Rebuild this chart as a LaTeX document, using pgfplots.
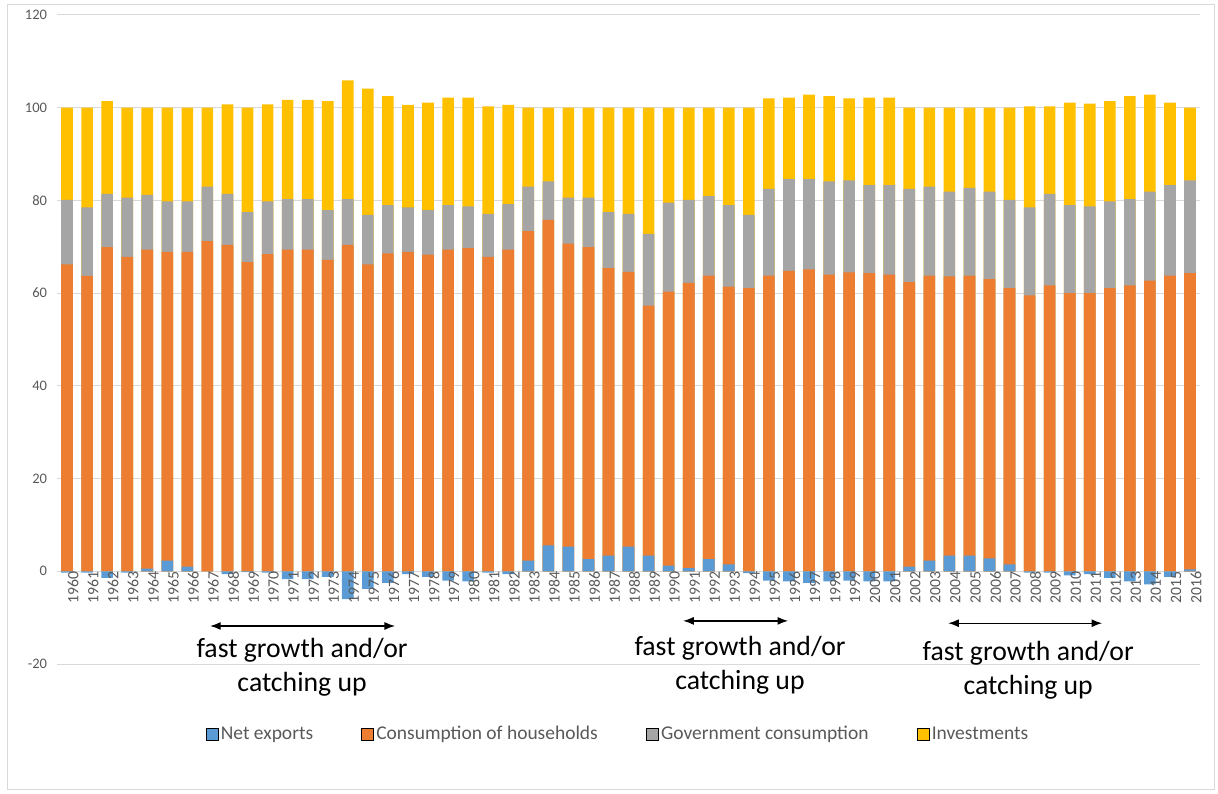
\documentclass[border=0pt]{standalone}
\usepackage{fontspec}
\setmainfont{Carlito}
\usepackage{pgfplots}
\pgfplotsset{compat=1.18}
\usepackage{pgfplotstable}
\usetikzlibrary{arrows.meta}

\definecolor{cNE}{HTML}{5B9BD5}
\definecolor{cHH}{HTML}{ED7D31}
\definecolor{cGov}{HTML}{A5A5A5}
\definecolor{cInv}{HTML}{FFC000}
\definecolor{cGrid}{HTML}{D9D9D9}
\definecolor{cText}{HTML}{595959}

% ne = net exports; hh, gov, tot = top of the household, government and investment segments
\pgfplotstableread{
year ne hh gov tot
1960 -0.3 66.2 80.1 100
1961 -0.3 63.7 78.5 100
1962 -1.4 69.9 81.4 101.4
1963 -0.3 67.8 80.6 100
1964 0.6 69.4 81.2 100
1965 2.3 68.9 79.8 100
1966 1.0 68.9 79.8 100
1967 0.0 71.2 83.0 100
1968 -0.6 70.4 81.4 100.7
1969 -0.2 66.7 77.5 100
1970 -0.3 68.4 79.8 100.7
1971 -1.7 69.4 80.3 101.7
1972 -1.7 69.4 80.3 101.7
1973 -1.2 67.2 77.9 101.4
1974 -6.0 70.4 80.3 105.9
1975 -3.8 66.2 76.9 104.1
1976 -2.5 68.6 79.0 102.5
1977 -0.6 68.9 78.5 100.6
1978 -1.2 68.3 77.9 101.1
1979 -2.0 69.4 79.0 102.2
1980 -2.2 69.7 78.7 102.2
1981 -0.3 67.8 77.1 100.3
1982 -0.6 69.4 79.2 100.6
1983 2.3 73.4 83.0 100
1984 5.6 75.8 84.1 100
1985 5.3 70.7 80.6 100
1986 2.6 69.9 80.6 100
1987 3.4 65.4 77.5 100
1988 5.3 64.6 77.1 100
1989 3.4 57.3 72.8 100
1990 1.2 60.3 79.5 100
1991 0.7 62.2 80.1 100
1992 2.6 63.8 80.9 100
1993 1.5 61.4 79.0 100
1994 -0.4 61.1 76.9 100
1995 -2.0 63.8 82.5 102.0
1996 -2.2 64.8 84.6 102.2
1997 -2.5 65.1 84.6 102.8
1998 -2.2 64.0 84.1 102.5
1999 -2.0 64.5 84.3 102.0
2000 -2.2 64.3 83.3 102.2
2001 -2.2 64.0 83.3 102.2
2002 1.0 62.4 82.5 100
2003 2.3 63.8 83.0 100
2004 3.4 63.6 81.9 100
2005 3.4 63.8 82.7 100
2006 2.8 63.0 81.9 100
2007 1.5 61.1 80.1 100
2008 -0.3 59.5 78.5 100.3
2009 -0.3 61.7 81.4 100.3
2010 -0.9 60.0 79.0 101.1
2011 -0.6 60.0 78.7 100.9
2012 -1.4 61.1 79.8 101.4
2013 -2.2 61.7 80.3 102.5
2014 -2.8 62.7 81.9 102.8
2015 -1.2 63.8 83.3 101.1
2016 0.4 64.3 84.3 100
}\gdp

\begin{document}
\begin{tikzpicture}
\begin{axis}[
  scale only axis, width=857.25pt, height=486.75pt,
  xmin=1959.5, xmax=2016.5, ymin=-20, ymax=120,
  axis line style={draw=none},
  ybar, bar width=0.58, bar shift=0pt,
  xtick=\empty, ytick={-20,0,...,120},
  major tick length=0pt,
  ymajorgrids, grid style={cGrid, line width=0.75pt},
  /pgf/number format/.cd, 1000 sep={}, assume math mode=true, /pgfplots/.cd,
  yticklabel style={text=cText, font=\fontsize{10.9}{13}\selectfont, xshift=-4pt},
  clip=false,
  legend style={at={(0.491,-0.108)}, anchor=center, draw=none, fill=none,
    legend columns=4, font=\fontsize{14.6}{17}\selectfont, text=cText,
    /tikz/every even column/.append style={column sep=34pt}},
  legend image code/.code={\fill[#1] (0pt,-4.5pt) rectangle (9pt,4.5pt);},
]
\addlegendimage{fill=cNE}\addlegendentry{Net exports}
\addlegendimage{fill=cHH}\addlegendentry{Consumption of households}
\addlegendimage{fill=cGov}\addlegendentry{Government consumption}
\addlegendimage{fill=cInv}\addlegendentry{Investments}

\addplot[fill=cInv, draw=none, forget plot] table[x=year, y=tot] {\gdp};
\addplot[fill=cGov, draw=none, forget plot] table[x=year, y=gov] {\gdp};
\addplot[fill=cHH, draw=none, forget plot] table[x=year, y=hh] {\gdp};
\addplot[fill=cNE, draw=none, forget plot] table[x=year, y=ne] {\gdp};

% year labels sit on the zero line, over the negative bars
\pgfplotsinvokeforeach{1960,...,2016}{
  \node[rotate=90, anchor=east, inner sep=0pt, yshift=-4.5pt, text=cText,
    font=\fontsize{11.8}{13}\selectfont] at (axis cs:#1,0) {#1};
}

\draw[{Latex[length=8pt,width=6pt]}-{Latex[length=8pt,width=6pt]}, line width=1pt]
  (axis cs:1967.13,-11.8) -- (axis cs:1976.36,-11.8);
\draw[{Latex[length=8pt,width=6pt]}-{Latex[length=8pt,width=6pt]}, line width=1pt]
  (axis cs:1990.72,-10.7) -- (axis cs:1995.96,-10.7);
\draw[{Latex[length=8pt,width=6pt]}-{Latex[length=8pt,width=6pt]}, line width=1pt]
  (axis cs:2003.94,-11.2) -- (axis cs:2011.62,-11.2);
\node[align=center, font=\fontsize{20.8}{25.5}\selectfont] at (axis cs:1971.72,-20.7) {fast growth and/or\\catching up};
\node[align=center, font=\fontsize{20.8}{25.5}\selectfont] at (axis cs:1993.56,-20.2) {fast growth and/or\\catching up};
\node[align=center, font=\fontsize{20.8}{25.5}\selectfont] at (axis cs:2007.93,-21.4) {fast growth and/or\\catching up};

\coordinate (bbSW) at (rel axis cs:-0.0499,-0.1988);
\coordinate (bbNE) at (rel axis cs:1.0157,1.0231);
\coordinate (frSW) at (rel axis cs:-0.0437,-0.1941);
\coordinate (frNE) at (rel axis cs:1.0122,1.0154);
\end{axis}
\draw[cGrid, line width=0.75pt] (frSW) rectangle (frNE);
\pgfresetboundingbox
\path[use as bounding box] (bbSW) rectangle (bbNE);
\end{tikzpicture}
\end{document}
